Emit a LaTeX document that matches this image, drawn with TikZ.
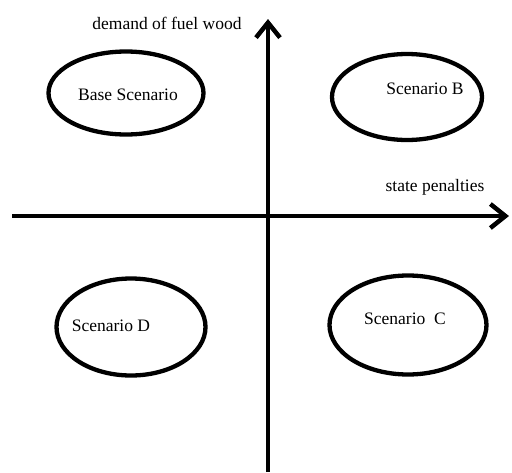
\documentclass[tikz,border=0pt]{standalone}
\usepackage{fontspec}
\setmainfont{Liberation Serif}
\usetikzlibrary{shapes.geometric,arrows.meta}
\begin{document}
\begin{tikzpicture}[x=1pt,y=-1pt,every node/.style={inner sep=1pt,font=\fontsize{17.5}{20}\selectfont}]
\tikzstyle{axis}=[draw,line width=4.5pt,-{Straight Barb[length=15pt,width=24pt]}]
\tikzstyle{scn}=[draw,ellipse,line width=4.3pt]
\useasboundingbox (0,0) rectangle (512,472);

% axes
\coordinate (ybot) at (268,472);
\coordinate (ytop) at (268,19);
\coordinate (xleft) at (12,216);
\coordinate (xright) at (509,216);
\draw[axis] (ybot) -- (ytop);
\draw[axis] (xleft) -- (xright);

\node(ylab) at (167,23){demand of fuel wood};
\node(xlab) at (435,187){state penalties};

% scenarios
\node[scn,minimum width=155pt,minimum height=83pt](base) at (126,93){};
\node[scn,minimum width=150pt,minimum height=86pt](scnB) at (407,97){};
\node[scn,minimum width=149pt,minimum height=97pt](scnD) at (131,327){};
\node[scn,minimum width=157pt,minimum height=99pt](scnC) at (408,325){};

\node(tbase) at (128,95){Base Scenario};
\node(tB) at (425,89){Scenario B};
\node(tD) at (111,326){Scenario D};
\node(tC) at (405,319){Scenario\ \ C};
\end{tikzpicture}
\end{document}
